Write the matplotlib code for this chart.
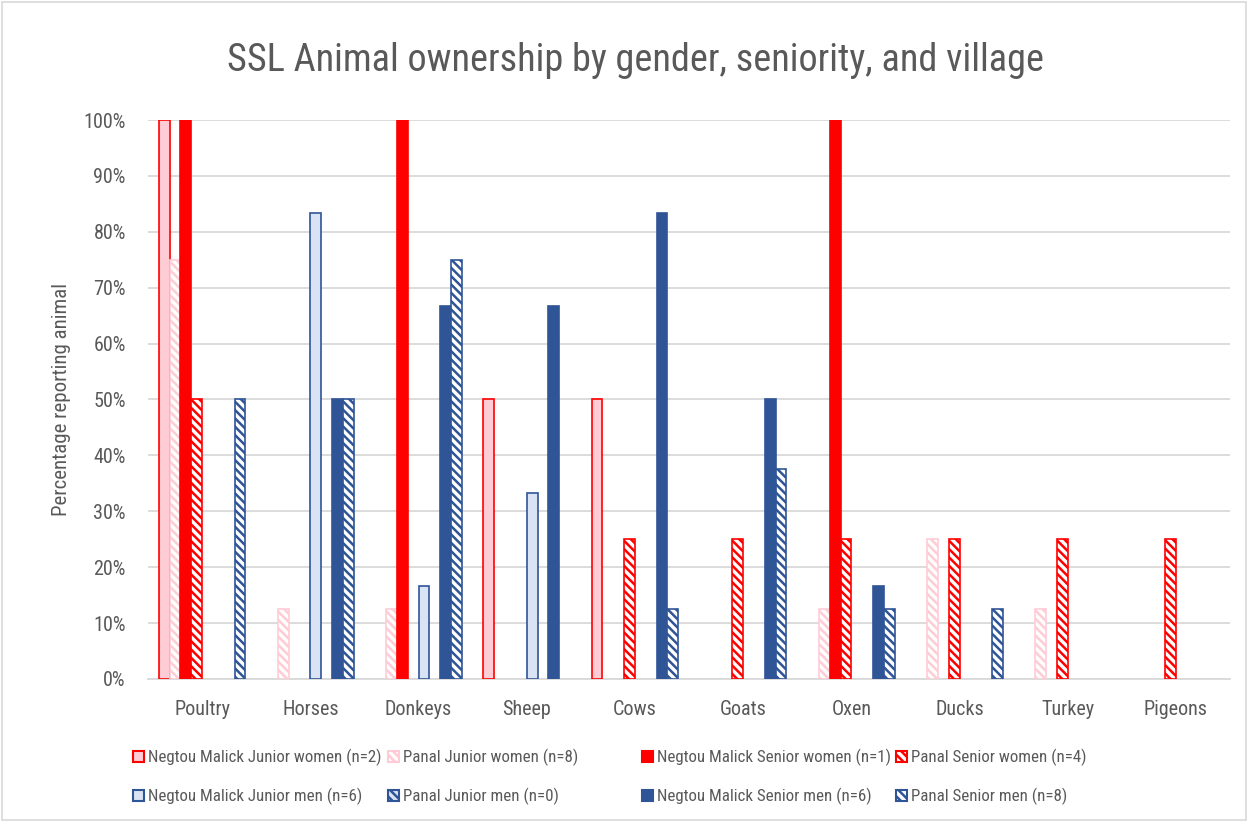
import numpy as np
import matplotlib
matplotlib.use("Agg")
import matplotlib.pyplot as plt
from matplotlib.patches import Rectangle

plt.rcParams['font.family'] = ['Roboto Condensed', 'Roboto', 'DejaVu Sans']
plt.rcParams['hatch.linewidth'] = 1.8

animals = ['Poultry', 'Horses', 'Donkeys', 'Sheep', 'Cows', 'Goats', 'Oxen', 'Ducks', 'Turkey', 'Pigeons']

# percentages reporting each animal
nm_jr_women = [100, 0, 0, 50, 50, 0, 0, 0, 0, 0]
pa_jr_women = [75, 12.5, 12.5, 0, 0, 0, 12.5, 25, 12.5, 0]
nm_sr_women = [100, 0, 100, 0, 0, 0, 100, 0, 0, 0]
pa_sr_women = [50, 0, 0, 0, 25, 25, 25, 25, 25, 25]
nm_jr_men = [0, 83.3, 16.7, 33.3, 0, 0, 0, 0, 0, 0]
pa_jr_men = [0, 0, 0, 0, 0, 0, 0, 0, 0, 0]
nm_sr_men = [0, 50, 66.7, 66.7, 83.3, 50, 16.7, 0, 0, 0]
pa_sr_men = [50, 50, 75, 0, 12.5, 37.5, 12.5, 12.5, 0, 0]

labels = ['Negtou Malick Junior women (n=2)', 'Panal Junior women (n=8)',
          'Negtou Malick Senior women (n=1)', 'Panal Senior women (n=4)',
          'Negtou Malick Junior men (n=6)', 'Panal Junior men (n=0)',
          'Negtou Malick Senior men (n=6)', 'Panal Senior men (n=8)']

series = [nm_jr_women, pa_jr_women, nm_sr_women, pa_sr_women,
          nm_jr_men, pa_jr_men, nm_sr_men, pa_sr_men]

# (facecolor, edgecolor, hatch)
RED = '#FF0000'
PINK = '#FFCCD5'
BLUE = '#2F5597'
LBLUE = '#DAE3F3'
GREY = '#595959'
styles = [
    (PINK, RED, None),
    ('white', PINK, '\\\\\\\\'),
    (RED, RED, None),
    ('white', RED, '\\\\\\\\'),
    (LBLUE, BLUE, None),
    (LBLUE, BLUE, '\\\\\\\\'),
    (BLUE, BLUE, None),
    ('white', BLUE, '\\\\\\\\'),
]

fig = plt.figure(figsize=(12.48, 8.22), dpi=100)
ax = fig.add_axes([0.1186, 0.174, 0.867, 0.680])

x = np.arange(len(animals))
w = 0.1
handles = []
for i, (vals, (fc, ec, h)) in enumerate(zip(series, styles)):
    b = ax.bar(x + (i - 3.5) * w, vals, width=w, color=fc, edgecolor=ec,
               hatch=h, linewidth=1.2, zorder=3)
    # Excel draws nothing for a zero value
    for p in b.patches:
        if p.get_height() == 0:
            p.set_visible(False)
    handles.append(Rectangle((0, 0), 1, 1, facecolor=fc, edgecolor=ec, hatch=h, linewidth=1.5))

ax.set_xlim(-0.5, 9.5)
ax.set_ylim(0, 100)
ax.set_yticks(np.arange(0, 101, 10))
ax.set_yticklabels([f'{v}%' for v in range(0, 101, 10)])
ax.set_xticks(x)
ax.set_xticklabels(animals)
ax.grid(axis='y', color='#D9D9D9', linewidth=1.3, zorder=0)
for s in ['top', 'right', 'left']:
    ax.spines[s].set_visible(False)
ax.spines['bottom'].set_color('#D9D9D9')
ax.spines['bottom'].set_linewidth(1.3)
ax.tick_params(axis='both', length=0, colors=GREY, labelsize=14.5)
ax.tick_params(axis='x', pad=15)
ax.tick_params(axis='y', pad=16)
ax.set_ylabel('Percentage reporting animal', color=GREY, fontsize=15, labelpad=9)

fig.text(0.509, 0.926, 'SSL Animal ownership by gender, seniority, and village',
         ha='center', va='center', fontsize=27.5, color=GREY)

# Excel legend: 4 equal-width columns, 2 rows
col_x = [133, 388, 642, 896]
col_items = [[0, 4], [1, 5], [2, 6], [3, 7]]
for cx, idx in zip(col_x, col_items):
    fig.legend([handles[k] for k in idx], [labels[k] for k in idx],
               loc='center left', bbox_to_anchor=(cx / 1248, 1 - 777 / 822),
               frameon=False, fontsize=12.2, handlelength=0.65, handleheight=0.65,
               handletextpad=0.25, borderpad=0, borderaxespad=0,
               labelspacing=1.3, labelcolor=GREY)

fig.patches.append(Rectangle((0.002, 0.002), 0.996, 0.996, transform=fig.transFigure,
                             fill=False, edgecolor='#D9D9D9', linewidth=1.2))

fig.savefig('out.png', dpi=100)
